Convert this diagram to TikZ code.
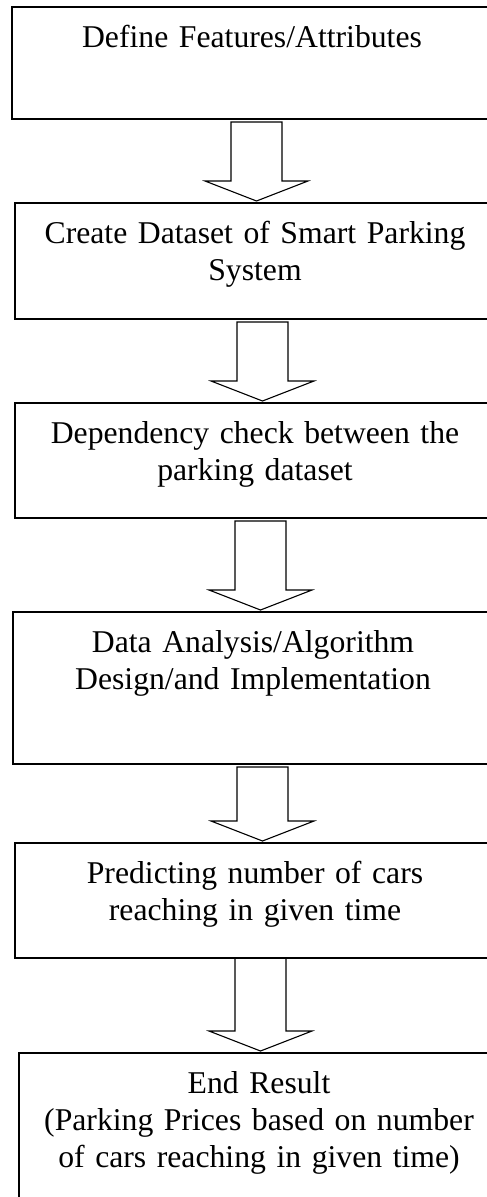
\documentclass[tikz,border=0pt]{standalone}
\usepackage{fontspec}
\setmainfont[WordSpace=0.8]{Liberation Serif}
\usetikzlibrary{calc}

\begin{document}
\begin{tikzpicture}[x=1pt, y=1pt,
	stepbox/.style={draw, line width=1.2pt, anchor=north, outer sep=0pt, text width=470pt, align=center, inner xsep=5pt, inner ysep=10pt, text height=30pt, text depth=#1, font=\fontsize{31.7}{37}\selectfont},
	flowarrow/.style={draw, line width=1.1pt, line join=miter}]

% page is 487 x 1197, y grows downwards; the boxes run off the right edge
\clip (0, 0) rectangle (487, -1197);

\def \xshaft{25.5} % half width of the arrow shaft
\def \xhead{51.5}  % half width of the arrow head
\def \xhl{20}      % length of the arrow head

\node[stepbox=62pt]  (define)   at (252, -7)    {Define Features/Attributes};
\node[stepbox=66pt]  (dataset)  at (255, -203)  {Create Dataset of Smart Parking\\System};
\node[stepbox=65pt]  (check)    at (255, -403)  {Dependency check between the\\parking dataset};
\node[stepbox=102pt] (analysis) at (253, -612)  {Data Analysis/Algorithm\\Design/and Implementation};
\node[stepbox=65pt]  (predict)  at (255, -843)  {Predicting number of cars\\reaching in given time};
\node[stepbox=120pt] (result)   at (259, -1053) {End Result\\(Parking Prices based on number\\of cars reaching in given time)};

% block arrows: from / to / centre x / gap below the upper box
\foreach \a/\b/\xm/\g in {define/dataset/256.5/3, dataset/check/262.5/3, check/analysis/260.5/3, analysis/predict/262.5/3, predict/result/260.5/0} {
	\draw[flowarrow] let \p1 = (\a.south), \p2 = (\b.north) in
		(\xm-\xshaft, \y1-\g) -- (\xm+\xshaft, \y1-\g) -- (\xm+\xshaft, \y2+2+\xhl) -- (\xm+\xhead, \y2+2+\xhl)
		-- (\xm, \y2+2) -- (\xm-\xhead, \y2+2+\xhl) -- (\xm-\xshaft, \y2+2+\xhl) -- cycle;
}

\end{tikzpicture}
\end{document}
